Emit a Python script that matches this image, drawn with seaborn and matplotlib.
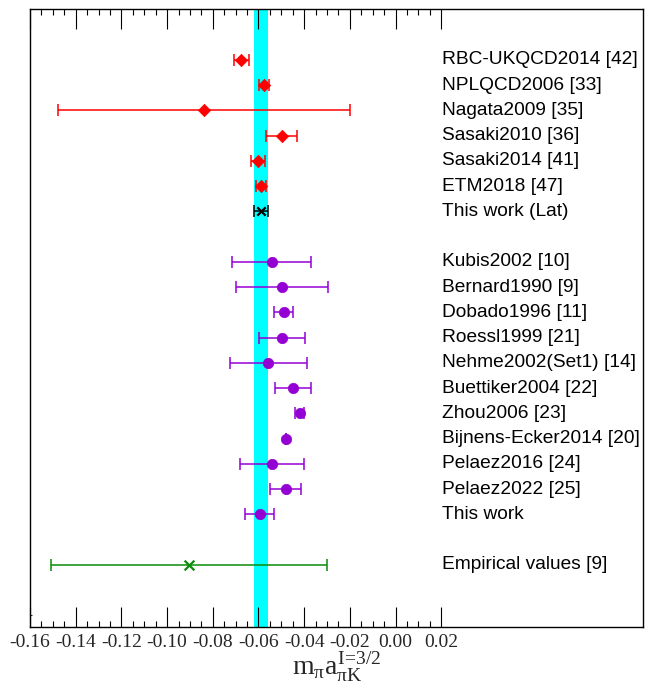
import matplotlib
matplotlib.use("Agg")
import matplotlib.pyplot as plt
import seaborn as sns
import pandas as pd
from matplotlib.ticker import FixedLocator, FormatStrFormatter

# ---------------- data ----------------
lat_labels = ["RBC-UKQCD2014 [42]", "NPLQCD2006 [33]", "Nagata2009 [35]",
              "Sasaki2010 [36]", "Sasaki2014 [41]", "ETM2018 [47]"]
lat_values = [-0.0675, -0.0576, -0.0837, -0.0498, -0.0602, -0.0590]
lat_errors = [0.0033, 0.0022, 0.0639, 0.0067, 0.0032, 0.0022]

this_lat_label = ["This work (Lat)"]
this_lat_value = [-0.0589]
this_lat_error = [0.0029]

pheno_labels = ["Kubis2002 [10]", "Bernard1990 [9]", "Dobado1996 [11]",
                "Roessl1999 [21]", "Nehme2002(Set1) [14]", "Buettiker2004 [22]",
                "Zhou2006 [23]", "Bijnens-Ecker2014 [20]", "Pelaez2016 [24]",
                "Pelaez2022 [25]", "This work"]
pheno_values = [-0.0542, -0.0498, -0.0490, -0.0498, -0.0557, -0.0448,
                -0.0420, -0.0480, -0.0540, -0.0481, -0.0595]
pheno_errors = [0.0172, 0.0201, 0.0042, 0.0100, 0.0168, 0.0078,
                0.0021, 0.0, 0.0140, 0.0068, 0.0063]

emp_label = ["Empirical values [9]"]
emp_value = [-0.0903]
emp_error = [0.0603]

band_low = -0.0620
band_high = -0.0558

x_major_ticks = [-0.16, -0.14, -0.12, -0.10, -0.08, -0.06, -0.04, -0.02, 0.00, 0.02]

# ---------------- style ----------------
sns.set_style("white")
plt.rcParams["font.family"] = ["Liberation Sans", "DejaVu Sans"]
plt.rcParams["mathtext.fontset"] = "custom"
plt.rcParams["mathtext.rm"] = "Liberation Serif"
plt.rcParams["mathtext.it"] = "Liberation Serif"
plt.rcParams["mathtext.bf"] = "Liberation Serif"

fig = plt.figure(figsize=(6.52, 6.92), dpi=100)
ax = fig.add_axes([30 / 652, 1 - 627 / 692, (643 - 30) / 652, (627 - 9) / 692])

groups = [
    (lat_labels, lat_values, lat_errors, "#ff0000", "D", 40, 0),
    (this_lat_label, this_lat_value, this_lat_error, "#000000", "x", 36, 6),
    (pheno_labels, pheno_values, pheno_errors, "#9400d3", "o", 56, 8),
    (emp_label, emp_value, emp_error, "#0a8c0a", "x", 49, 20),
]

ax.axvspan(band_low, band_high, color="#00ffff", zorder=0, lw=0)

for labels, vals, errs, col, mk, size, start in groups:
    df = pd.DataFrame({"label": labels, "value": vals, "err": errs,
                       "row": list(range(start, start + len(labels)))})
    ax.errorbar(df["value"], df["row"], xerr=df["err"], fmt="none",
                ecolor=col, elinewidth=1.1, capsize=4.3, capthick=1.1, zorder=2)
    if mk == "x":
        sns.scatterplot(data=df, x="value", y="row", marker="x", s=size,
                        color=col, linewidth=1.6, ax=ax, zorder=3, legend=False)
    else:
        sns.scatterplot(data=df, x="value", y="row", marker=mk, s=size,
                        color=col, edgecolor=col, linewidth=0.5, ax=ax,
                        zorder=3, legend=False)
    for _, r in df.iterrows():
        ax.text(0.0205, r["row"], r["label"], ha="left", va="center",
                fontsize=13.8, color="black",
                family=["Liberation Sans", "DejaVu Sans"])

ax.set_xlim(-0.16, 0.1083)
ax.set_ylim(22.46, -2.02)

ax.xaxis.set_major_locator(FixedLocator(x_major_ticks))
minor = [round(-0.16 + 0.005 * i, 3) for i in range(37)]
ax.xaxis.set_minor_locator(FixedLocator(minor))
ax.xaxis.set_major_formatter(FormatStrFormatter("%.2f"))
ax.tick_params(axis="x", which="major", direction="in", length=14.4, width=0.8,
               top=True, bottom=True, labelsize=14, pad=5, color="black")
ax.tick_params(axis="x", which="minor", direction="in", length=4.2, width=0.8,
               top=True, bottom=True, color="black")
for lab in ax.get_xticklabels():
    lab.set_family(["Liberation Serif", "DejaVu Serif"])

ax.set_yticks([22])
ax.set_yticklabels([])
ax.tick_params(axis="y", which="major", direction="in", length=1.5, width=0.8,
               left=True, right=False)

for s in ax.spines.values():
    s.set_visible(True)
    s.set_color("black")
    s.set_linewidth(1.0)

ax.set_xlabel(r"$m_{\pi}a_{\pi K}^{I\!=\!3/2}$", fontsize=20, labelpad=0)
ax.set_ylabel("")

fig.savefig("out.png", dpi=100)
